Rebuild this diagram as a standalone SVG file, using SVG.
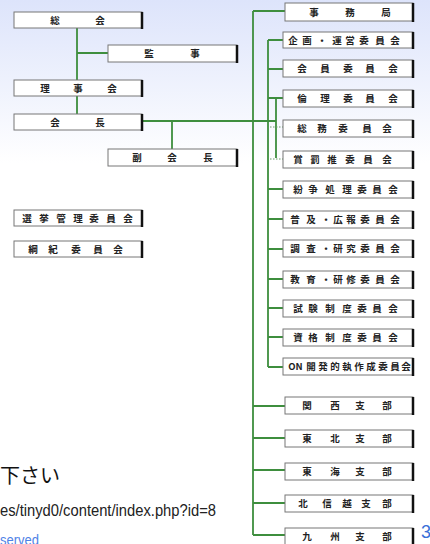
<svg xmlns="http://www.w3.org/2000/svg" width="430" height="544" viewBox="0 0 430 544">
<defs>
<linearGradient id="bg" x1="0" y1="0" x2="0" y2="1">
<stop offset="0" stop-color="#dde4fb"/>
<stop offset="0.3" stop-color="#ffffff"/>
<stop offset="1" stop-color="#ffffff"/>
</linearGradient>
</defs>
<style>
.box{fill:#ffffff;stroke:#777;stroke-width:1}
.edge{stroke:#111;stroke-width:2.5}
.lbl{font-family:"Noto Sans CJK JP","Noto Sans",sans-serif;font-size:9.5px;font-weight:bold;fill:#222;text-anchor:middle}
.ln{stroke:#3e8e3e;stroke-width:1.8;fill:none}
.dot{stroke:#6a9a6a;stroke-width:1.2;stroke-dasharray:1.5 1.5;fill:none}
</style>
<rect x="0" y="0" width="430" height="544" fill="url(#bg)"/>

<g id="connectors">
<path class="ln" d="M77 28V80M77 96V114M77 53H108"/>
<path class="ln" d="M143 121H276M172 121V149"/>
<path class="ln" d="M253 11V535M253 11H285M253 406H285M253 438H285M253 470H285M253 503H285M253 535H285"/>
<path class="ln" d="M268 40V367M268 40H283M268 69H283M268 98H283M268 189H283M268 219H283M268 249H283M268 279H283M268 308H283M268 337H283M268 367H283"/>
<path class="ln" d="M276 98V158" stroke-width="1.4"/>
<path class="dot" d="M270 127H283M270 159H283"/>
</g>

<g id="n-soukai"><rect class="box" x="14" y="12" width="128" height="16"/><line class="edge" x1="142" y1="12" x2="142" y2="29"/><text class="lbl" x="55 100" y="24">総会</text></g>
<g id="n-kanji"><rect class="box" x="108" y="45" width="129" height="17"/><line class="edge" x1="237" y1="45" x2="237" y2="63"/><text class="lbl" x="149 195" y="57">監事</text></g>
<g id="n-rijikai"><rect class="box" x="14" y="80" width="128" height="16"/><line class="edge" x1="142" y1="80" x2="142" y2="97"/><text class="lbl" x="45 78 112" y="92">理事会</text></g>
<g id="n-kaicho"><rect class="box" x="14" y="114" width="128" height="16"/><line class="edge" x1="142" y1="114" x2="142" y2="131"/><text class="lbl" x="55 100" y="126">会長</text></g>
<g id="n-fukukaicho"><rect class="box" x="108" y="149" width="129" height="17"/><line class="edge" x1="237" y1="149" x2="237" y2="167"/><text class="lbl" x="137 172 208" y="161">副会長</text></g>
<g id="n-senkyo"><rect class="box" x="14" y="210" width="128" height="16"/><line class="edge" x1="142" y1="210" x2="142" y2="227"/><text class="lbl" x="27 44 61 78 94 111 128" y="222">選挙管理委員会</text></g>
<g id="n-kouki"><rect class="box" x="14" y="241" width="128" height="16"/><line class="edge" x1="142" y1="241" x2="142" y2="258"/><text class="lbl" x="33 53 76 98 118" y="253">綱紀委員会</text></g>

<g id="n-jimukyoku"><rect class="box" x="285" y="3" width="128" height="18"/><line class="edge" x1="413" y1="3" x2="413" y2="22"/><text class="lbl" x="314 350 386" y="16">事務局</text></g>
<g id="n-kikaku"><rect class="box" x="283" y="32" width="130" height="16"/><line class="edge" x1="413" y1="32" x2="413" y2="49"/><text class="lbl" x="293 307 322 337 350 364 380 395" y="44">企画・運営委員会</text></g>
<g id="n-kaiin"><rect class="box" x="283" y="60" width="130" height="17"/><line class="edge" x1="413" y1="60" x2="413" y2="78"/><text class="lbl" x="302 325 348 370 393" y="72">会員委員会</text></g>
<g id="n-rinri"><rect class="box" x="283" y="90" width="130" height="17"/><line class="edge" x1="413" y1="90" x2="413" y2="108"/><text class="lbl" x="302 325 348 370 393" y="102">倫理委員会</text></g>
<g id="n-soumu"><rect class="box" x="283" y="120" width="130" height="17"/><line class="edge" x1="413" y1="120" x2="413" y2="138"/><text class="lbl" x="302 322 343 367 387" y="132">総務委員会</text></g>
<g id="n-shou"><rect class="box" x="283" y="151" width="130" height="17"/><line class="edge" x1="413" y1="151" x2="413" y2="169"/><text class="lbl" x="298 315 332 350 368 387" y="163">賞罰推委員会</text></g>
<g id="n-funsou"><rect class="box" x="283" y="181" width="130" height="17"/><line class="edge" x1="413" y1="181" x2="413" y2="199"/><text class="lbl" x="298 313 330 347 362 377 393" y="193">紛争処理委員会</text></g>
<g id="n-fukyu"><rect class="box" x="283" y="211" width="130" height="17"/><line class="edge" x1="413" y1="211" x2="413" y2="229"/><text class="lbl" x="295 311 326 338 351 365 380 395" y="223">普及・広報委員会</text></g>
<g id="n-chousa"><rect class="box" x="283" y="240" width="130" height="17"/><line class="edge" x1="413" y1="240" x2="413" y2="258"/><text class="lbl" x="295 311 326 338 351 365 380 395" y="252">調査・研究委員会</text></g>
<g id="n-kyouiku"><rect class="box" x="283" y="271" width="130" height="17"/><line class="edge" x1="413" y1="271" x2="413" y2="289"/><text class="lbl" x="295 311 326 338 351 365 380 395" y="283">教育・研修委員会</text></g>
<g id="n-shiken"><rect class="box" x="283" y="300" width="130" height="17"/><line class="edge" x1="413" y1="300" x2="413" y2="318"/><text class="lbl" x="298 313 330 347 362 377 393" y="312">試験制度委員会</text></g>
<g id="n-shikaku"><rect class="box" x="283" y="329" width="130" height="17"/><line class="edge" x1="413" y1="329" x2="413" y2="347"/><text class="lbl" x="298 313 330 347 362 377 393" y="341">資格制度委員会</text></g>
<g id="n-on"><rect class="box" x="283" y="358" width="130" height="17"/><line class="edge" x1="413" y1="358" x2="413" y2="376"/><text class="lbl" x="292 299 311 323 335 347 359 371 383 395 406" y="370" font-size="9">ON開発的執作成委員会</text></g>
<g id="n-kansai"><rect class="box" x="285" y="397" width="128" height="17"/><line class="edge" x1="413" y1="397" x2="413" y2="415"/><text class="lbl" x="307 335 360 387" y="409">関西支部</text></g>
<g id="n-touhoku"><rect class="box" x="285" y="430" width="128" height="17"/><line class="edge" x1="413" y1="430" x2="413" y2="448"/><text class="lbl" x="307 335 360 387" y="442">東北支部</text></g>
<g id="n-toukai"><rect class="box" x="285" y="463" width="128" height="17"/><line class="edge" x1="413" y1="463" x2="413" y2="481"/><text class="lbl" x="307 335 360 387" y="475">東海支部</text></g>
<g id="n-hokushinetsu"><rect class="box" x="285" y="495" width="128" height="17"/><line class="edge" x1="413" y1="495" x2="413" y2="513"/><text class="lbl" x="303 327 347 366 387" y="507">北信越支部</text></g>
<g id="n-kyushu"><rect class="box" x="285" y="528" width="128" height="17"/><line class="edge" x1="413" y1="528" x2="413" y2="545"/><text class="lbl" x="307 335 360 387" y="540">九州支部</text></g>

<text x="0" y="483" font-family="'Noto Sans CJK JP',sans-serif" font-size="20" fill="#111">下さい</text>
<text x="0" y="516" font-family="'Liberation Sans',Arial,sans-serif" font-size="17" fill="#222" textLength="216" lengthAdjust="spacingAndGlyphs">es/tinyd0/content/index.php?id=8</text>
<text x="0" y="545" font-family="'Liberation Sans',Arial,sans-serif" font-size="14" fill="#4f82e6" textLength="39" lengthAdjust="spacingAndGlyphs">served</text>
<text x="421" y="538" font-family="'Liberation Sans',Arial,sans-serif" font-size="18" fill="#3a6fd8">3</text>
</svg>
